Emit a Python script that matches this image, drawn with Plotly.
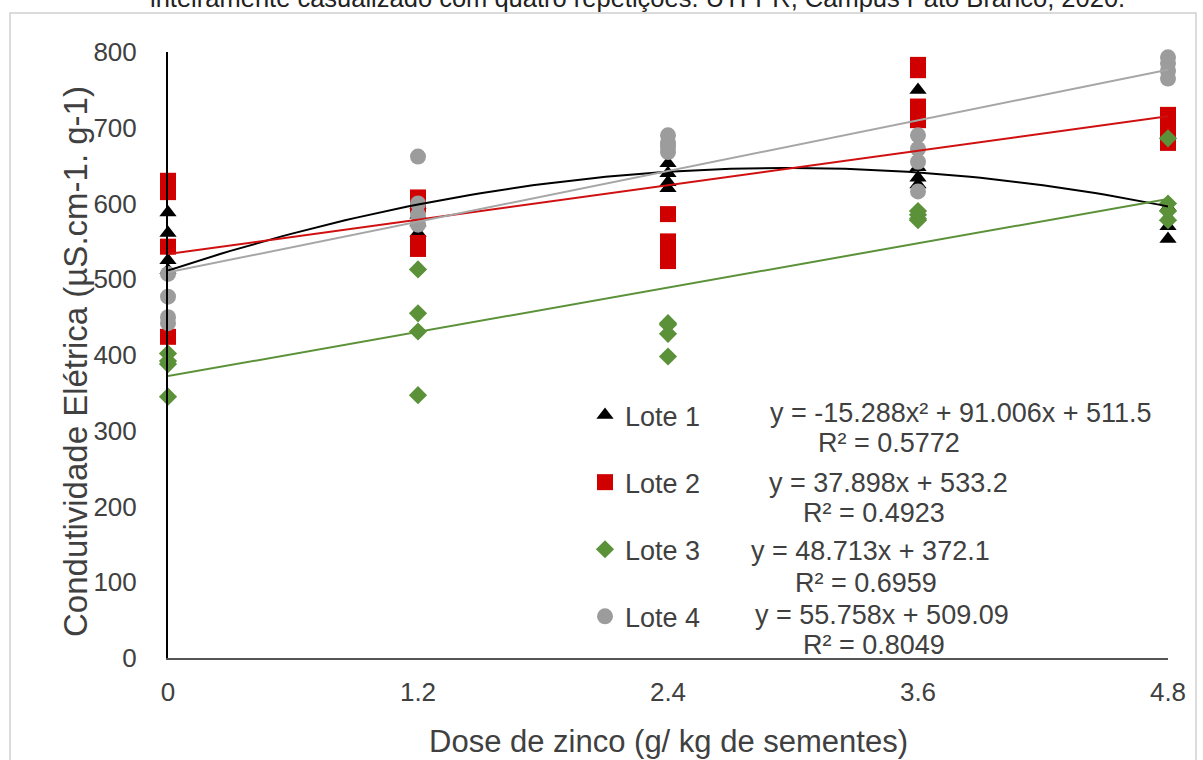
import numpy as np
import plotly.graph_objects as go

# ---- data ----
doses = [0, 1.2, 2.4, 3.6, 4.8]
tick_labels = ["0", "1.2", "2.4", "3.6", "4.8"]

lote1 = [[588, 561, 525, 512], [598, 585, 575, 561], [653, 640, 628, 620],
         [750, 648, 634, 625], [595, 582, 570, 553]]
lote2 = [[630, 615, 543, 424], [608, 598, 548, 540], [586, 550, 535, 524],
         [783, 776, 728, 710], [717, 705, 690, 680]]
lote3 = [[402, 392, 388, 345], [513, 455, 431, 347], [442, 428, 398, 440],
         [590, 585, 580, 578], [686, 600, 590, 578]]
lote4 = [[507, 477, 450, 442], [662, 600, 585, 572], [690, 680, 675, 668],
         [690, 672, 655, 616], [793, 785, 775, 765]]

series_names = ["Lote 1", "Lote 2", "Lote 3", "Lote 4"]
# trendline coefficients (a2, a1, a0) as printed on the chart
coef1 = [-15.288, 91.006, 511.5]
coef2 = [0.0, 37.898, 533.2]
coef3 = [0.0, 48.713, 372.1]
coef4 = [0.0, 55.758, 509.09]
equations = ["y = -15.288x² + 91.006x + 511.5", "y = 37.898x + 533.2",
             "y = 48.713x + 372.1", "y = 55.758x + 509.09"]
r2_labels = ["R² = 0.5772", "R² = 0.4923", "R² = 0.6959", "R² = 0.8049"]

caption = "inteiramente casualizado com quatro repetições. UTFPR, Campus Pato Branco, 2020."
x_title = "Dose de zinco (g/ kg de sementes)"
y_title = "Condutividade Elétrica (µS.cm-1. g-1)"

# ---- styles ----
FONT = "Liberation Sans, Arial, sans-serif"
TXT = "#404040"
marker_styles = [
    dict(symbol="triangle-up", color="#000000", size=15),
    dict(symbol="square", color="#d00000", size=16),
    dict(symbol="diamond", color="#5b9239", size=14),
    dict(symbol="circle", color="#9c9c9c", size=16),
]
line_colors = ["#000000", "#d01010", "#5b9239", "#a6a6a6"]

W, H = 1203, 760
L, R, T, B = 168, 35, 52, 102
pw, ph = W - L - R, H - T - B


def px(x):
    return (x - L) / pw


def py(y):
    return (H - B - y) / ph


fig = go.Figure()

all_series = [lote1, lote2, lote3, lote4]
for i, (name, data, ms) in enumerate(zip(series_names, all_series, marker_styles)):
    xs, ys = [], []
    for d, vals in zip(doses, data):
        for v in vals:
            xs.append(d)
            ys.append(v)
    fig.add_trace(go.Scatter(
        x=xs, y=ys, mode="markers", name=name, legendgroup=name,
        marker=dict(symbol=ms["symbol"], color=ms["color"], size=ms["size"], line=dict(width=0)),
        cliponaxis=False,
    ))

xfit = np.linspace(0, 4.8, 97)
for i, c in enumerate([coef1, coef2, coef3, coef4]):
    yfit = c[0] * xfit ** 2 + c[1] * xfit + c[2]
    fig.add_trace(go.Scatter(
        x=xfit, y=yfit, mode="lines", showlegend=False,
        line=dict(color=line_colors[i], width=2), hoverinfo="skip", cliponaxis=False,
    ))

annotations = []
eq_rows = [(961, 413, 889, 443), (888, 483, 874, 513), (870, 551, 866, 583), (882, 615, 874, 645)]
for (ex, ey, rx, ryy), eq, r2 in zip(eq_rows, equations, r2_labels):
    annotations.append(dict(x=px(ex), y=py(ey), xref="paper", yref="paper", text=eq,
                            showarrow=False, xanchor="center", yanchor="middle",
                            font=dict(family=FONT, size=27, color=TXT)))
    annotations.append(dict(x=px(rx), y=py(ryy), xref="paper", yref="paper", text=r2,
                            showarrow=False, xanchor="center", yanchor="middle",
                            font=dict(family=FONT, size=27, color=TXT)))

annotations.append(dict(x=px(668), y=py(741), xref="paper", yref="paper", text=x_title,
                        showarrow=False, xanchor="center", yanchor="middle",
                        font=dict(family=FONT, size=31, color=TXT)))
annotations.append(dict(x=px(75), y=py(362), xref="paper", yref="paper", text=y_title,
                        showarrow=False, xanchor="center", yanchor="middle", textangle=-90,
                        font=dict(family=FONT, size=33, color=TXT)))
annotations.append(dict(x=px(637), y=py(-2), xref="paper", yref="paper", text=caption,
                        showarrow=False, xanchor="center", yanchor="middle",
                        font=dict(family="Liberation Sans, Arial, sans-serif",
                                  size=25.5, color="#222222")))

shapes = [dict(type="rect", xref="paper", yref="paper", x0=px(10), x1=px(1196), y0=py(775), y1=py(13),
               line=dict(color="#cfcfcf", width=1.5), layer="below")]

fig.update_layout(
    width=W, height=H,
    margin=dict(l=L, r=R, t=T, b=B),
    paper_bgcolor="white", plot_bgcolor="white",
    font=dict(family=FONT, color=TXT),
    showlegend=True,
    legend=dict(x=px(585), y=py(391), xanchor="left", yanchor="top",
                font=dict(family=FONT, size=27, color=TXT),
                traceorder="grouped", tracegroupgap=29, bgcolor="rgba(0,0,0,0)",
                itemsizing="trace"),
    xaxis=dict(range=[0, 4.8], tickvals=doses, ticktext=tick_labels, showgrid=False,
               zeroline=False, showline=True, linecolor="#555555", linewidth=2, ticks="",
               tickfont=dict(family=FONT, size=26, color=TXT), ticklabelstandoff=10),
    yaxis=dict(range=[0, 800], tickvals=list(range(0, 801, 100)), showgrid=False,
               zeroline=False, showline=True, linecolor="#000000", linewidth=2, ticks="",
               tickfont=dict(family=FONT, size=26, color=TXT), ticklabelstandoff=24),
    annotations=annotations,
    shapes=shapes,
)

fig.write_html("out.html", config={"displayModeBar": False},
               post_script="document.body.style.margin='0';document.body.style.overflow='hidden';")
